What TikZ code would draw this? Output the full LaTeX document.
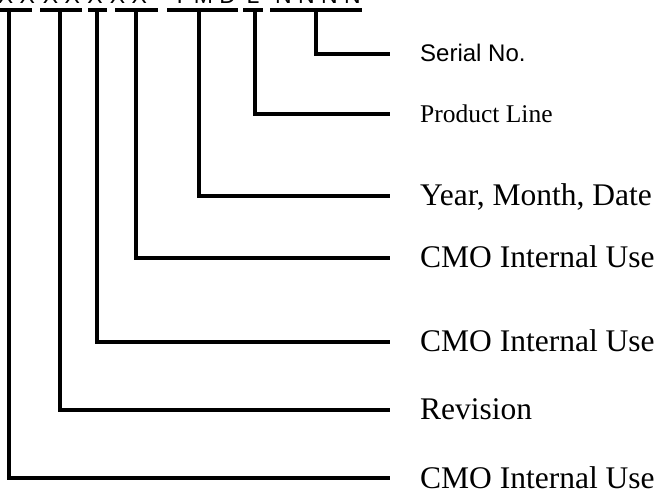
\documentclass[tikz,border=0pt]{standalone}
\usepackage{fontspec}
\setmainfont{Liberation Serif}
\newfontfamily\arialfont{Liberation Sans}
\begin{document}
\begin{tikzpicture}[x=1pt,y=-1pt,
  wire/.style={line width=3.3pt,line join=miter,line cap=butt},
  bar/.style={line width=3.6pt,line cap=butt},
  code/.style={font=\arialfont\fontsize{23}{23}\selectfont,anchor=base,inner sep=0pt},
  lbl/.style={anchor=base west,inner sep=0pt,font=\fontsize{31.5}{31.5}\selectfont},
  lblsmall/.style={lbl,font=\fontsize{25.5}{25.5}\selectfont},
  lblsans/.style={lbl,font=\arialfont\fontsize{24}{24}\selectfont}]
\useasboundingbox (0,0) rectangle (659,494);
\clip (0,0) rectangle (659,494);
% code groups (only their lower parts are visible)
\node[code] (g1) at (16.5,4) {X X};
\node[code] (g2) at (61.5,4) {X X};
\node[code] (g3) at (95,4) {X};
\node[code] (g4) at (128.5,4) {X X};
\node[code] (g5) at (204,4) {Y M D};
\node[code] (g6) at (253,4) {L};
\node[code] (g7) at (318,4) {N N N N};
% underlines
\draw[bar] (-5,10) -- (32,10);
\draw[bar] (40,10) -- (82,10);
\draw[bar] (88,10) -- (107,10);
\draw[bar] (115,10) -- (158,10);
\draw[bar] (167,10) -- (238,10);
\draw[bar] (243,10) -- (263,10);
\draw[bar] (270,10) -- (362,10);
% connector tops and ends
\coordinate (t1) at (9,10);   \coordinate (e1) at (390,478);
\coordinate (t2) at (60,10);  \coordinate (e2) at (390,410);
\coordinate (t3) at (97,10);  \coordinate (e3) at (390,342);
\coordinate (t4) at (136,10); \coordinate (e4) at (390,258);
\coordinate (t5) at (199,10); \coordinate (e5) at (390,196);
\coordinate (t6) at (255,10); \coordinate (e6) at (390,114);
\coordinate (t7) at (316,10); \coordinate (e7) at (390,54);
\foreach \i in {1,...,7} \draw[wire] (t\i) |- (e\i);
% labels
\node[lblsans]  (l7) at (420,62)  {Serial No.};
\node[lblsmall] (l6) at (420,123) {Product Line};
\node[lbl]      (l5) at (420,206) {Year, Month, Date};
\node[lbl]      (l4) at (420,268) {CMO Internal Use};
\node[lbl]      (l3) at (420,352) {CMO Internal Use};
\node[lbl]      (l2) at (420,420) {Revision};
\node[lbl]      (l1) at (420,488) {CMO Internal Use};
\end{tikzpicture}
\end{document}
